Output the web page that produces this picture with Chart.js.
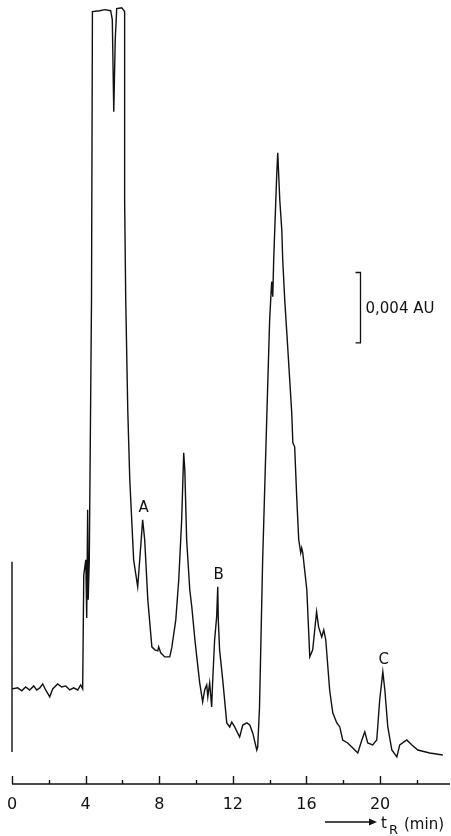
<!DOCTYPE html>
<html>
<head>
<meta charset="utf-8">
<script src="https://cdn.jsdelivr.net/npm/chart.js@4.4.0/dist/chart.umd.min.js"></script>
<style>
  html, body { margin: 0; padding: 0; background: #fff; }
  #wrap { width: 451px; height: 836px; }
</style>
</head>
<body>
<div id="wrap"><canvas id="chromatogram"></canvas></div>
<script>
// Retention time (min) of each trace point
const retentionTimes = [
  0.0, 0.0, 0.0, 0.0, 0.31, 0.53, 0.74, 0.96, 1.18, 1.34,
  1.51, 1.67, 1.83, 2.05, 2.21, 2.48, 2.70, 2.92, 3.14, 3.35,
  3.57, 3.73, 3.84,
  3.90, 4.01, 4.06, 4.11, 4.14, 4.20, 4.32, 4.37, 4.77, 5.04,
  5.36, 5.45, 5.53, 5.61, 5.69, 5.96, 6.12, 6.12, 6.18, 6.29,
  6.40, 6.61, 6.83,
  6.94, 7.10, 7.21, 7.38, 7.60, 7.76, 7.92, 7.97, 8.08, 8.30,
  8.57, 8.68, 8.90, 9.06, 9.22, 9.33, 9.39, 9.49, 9.66, 9.77,
  9.94, 10.04, 10.20, 10.36, 10.47, 10.58, 10.64, 10.74, 10.85, 10.90,
  11.01, 11.12, 11.18, 11.21, 11.28, 11.45, 11.67, 11.83, 11.94, 12.10,
  12.37, 12.54, 12.76, 12.92, 13.08, 13.30, 13.35, 13.45, 13.62, 13.84,
  14.00, 14.11, 14.17, 14.22, 14.38, 14.44, 14.55, 14.66, 14.71, 14.82,
  14.98, 15.20, 15.26, 15.36, 15.47, 15.58, 15.69, 15.74, 15.80, 16.02,
  16.18, 16.34, 16.55, 16.66, 16.83, 16.94, 17.05, 17.26, 17.43, 17.65,
  17.81, 17.97, 18.24, 18.52, 18.79, 19.01, 19.17, 19.33, 19.60, 19.82,
  19.98, 20.15, 20.26, 20.42, 20.64, 20.91, 21.07, 21.45, 21.73, 22.05,
  22.70, 23.41
];

// Detector signal (mAU above baseline), same order as retentionTimes
const absorbance = [
  7.22, -3.58, 0.0, 0.0, 0.06, -0.11, 0.11, -0.06, 0.17, -0.06,
  0.06, 0.28, -0.06, -0.45, 0.0, 0.28, 0.11, 0.17, -0.06, 0.06,
  -0.06, 0.23, 0.0,
  6.48, 7.33, 4.03, 10.17, 5.06, 7.33, 22.10, 38.47, 38.52, 38.58,
  38.52, 38.01, 32.78, 36.88, 38.64, 38.69, 38.47, 27.78, 22.10, 15.85,
  11.88, 7.33, 5.80,
  7.33, 9.60, 8.47, 5.06, 2.39, 2.22, 2.16, 2.39, 2.05, 1.82,
  1.82, 2.33, 3.92, 6.19, 9.60, 13.41, 12.44, 8.47, 5.63, 4.66,
  2.78, 1.82, 0.34, -0.74, -0.06, 0.23, -0.45, 0.34, -1.02, 0.34,
  2.78, 4.09, 5.80, 3.92, 2.22, 0.51, -1.93, -2.16, -1.88, -2.16,
  -2.73, -2.05, -1.93, -2.05, -2.50, -3.47, -3.30, -1.02, 7.33, 15.28,
  20.97, 23.13, 22.27, 24.38, 29.09, 30.45, 27.78, 26.08, 24.38, 22.10,
  19.43, 15.68, 13.98, 13.75, 10.91, 8.47, 7.73, 8.01, 7.73, 5.63,
  1.82, 2.22, 4.38, 3.52, 2.95, 3.35, 2.78, -0.06, -1.36, -1.93,
  -2.16, -2.90, -3.07, -3.35, -3.64, -2.90, -2.44, -3.07, -3.18, -2.90,
  -0.63, 0.97, -0.06, -2.16, -3.47, -3.86, -3.18, -2.90, -3.18, -3.47,
  -3.64, -3.75
];

const labelledTicks = [0, 4, 8, 12, 16, 20];

// peaks marked on the trace
const peakNames = ["A", "B", "C"];
const peakTimes = [7.10, 11.18, 20.15];
const peakHeights = [9.60, 5.80, 0.97];

// scale bar: 4 mAU = 0,004 AU
const scaleBarText = "0,004 AU";
const scaleBarSize = 4;
const scaleBarTime = 18.9;
const scaleBarTop = 23.65;

const FONT = "'DejaVu Sans', sans-serif";
const INK = "#111";

const points = retentionTimes.map((t, i) => ({ x: t, y: absorbance[i] }));

const decorations = {
  id: "decorations",
  afterDraw(chart) {
    const ctx = chart.ctx;
    const xs = chart.scales.x;
    const ys = chart.scales.y;
    const area = chart.chartArea;
    const base = area.bottom;

    ctx.save();
    ctx.strokeStyle = INK;
    ctx.fillStyle = INK;
    ctx.lineWidth = 1.4;

    // time axis with upward ticks
    ctx.beginPath();
    ctx.moveTo(xs.getPixelForValue(0), base);
    ctx.lineTo(area.right, base);
    xs.ticks.forEach((tk) => {
      const px = Math.round(xs.getPixelForValue(tk.value)) + 0.5;
      const len = labelledTicks.includes(tk.value) ? 8 : 4;
      ctx.moveTo(px, base);
      ctx.lineTo(px, base - len);
    });
    ctx.stroke();

    // peak letters
    ctx.font = "15px " + FONT;
    ctx.textAlign = "center";
    ctx.textBaseline = "middle";
    peakNames.forEach((name, i) => {
      const px = xs.getPixelForValue(peakTimes[i]);
      const py = ys.getPixelForValue(peakHeights[i]);
      ctx.fillText(name, px + 1, py - 12);
    });

    // absorbance scale bar
    const bx = Math.round(xs.getPixelForValue(scaleBarTime)) + 0.5;
    const by1 = ys.getPixelForValue(scaleBarTop);
    const by2 = ys.getPixelForValue(scaleBarTop - scaleBarSize);
    ctx.lineWidth = 1.3;
    ctx.beginPath();
    ctx.moveTo(bx - 5, by1);
    ctx.lineTo(bx, by1);
    ctx.lineTo(bx, by2);
    ctx.lineTo(bx - 5, by2);
    ctx.stroke();
    ctx.textAlign = "left";
    ctx.fillText(scaleBarText, bx + 5, (by1 + by2) / 2 + 1);

    // axis title: arrow and t_R (min)
    const ay = 822;
    const ax2 = area.right - 73;
    ctx.beginPath();
    ctx.moveTo(area.right - 125, ay);
    ctx.lineTo(ax2 - 6, ay);
    ctx.stroke();
    ctx.beginPath();
    ctx.moveTo(ax2, ay);
    ctx.lineTo(ax2 - 8, ay - 3.5);
    ctx.lineTo(ax2 - 8, ay + 3.5);
    ctx.closePath();
    ctx.fill();
    ctx.textBaseline = "alphabetic";
    ctx.font = "15px " + FONT;
    ctx.fillText("t", ax2 + 4, 828);
    ctx.font = "13px " + FONT;
    ctx.fillText("R", ax2 + 12, 834);
    ctx.font = "15px " + FONT;
    ctx.fillText("(min)", ax2 + 27, 829);

    ctx.restore();
  },
};

new Chart(document.getElementById("chromatogram").getContext("2d"), {
  type: "line",
  data: {
    datasets: [
      {
        data: points,
        borderColor: INK,
        borderWidth: 1.4,
        pointRadius: 0,
        tension: 0,
        fill: false,
        clip: false,
      },
    ],
  },
  options: {
    responsive: true,
    maintainAspectRatio: false,
    animation: false,
    layout: { padding: { left: 12, right: 1, top: 4, bottom: 0 } },
    plugins: {
      legend: { display: false },
      tooltip: { enabled: false },
    },
    scales: {
      x: {
        type: "linear",
        min: 0,
        max: 23.8,
        border: { display: false },
        grid: { display: false },
        afterFit: (scale) => {
          scale.height = 52;
        },
        ticks: {
          stepSize: 2,
          includeBounds: false,
          autoSkip: false,
          maxRotation: 0,
          padding: 3,
          color: INK,
          font: { family: FONT, size: 16 },
          callback: (v) => (labelledTicks.includes(v) ? String(v) : ""),
        },
      },
      y: {
        display: false,
        min: -5.4,
        max: 38.9,
      },
    },
  },
  plugins: [decorations],
});
</script>
</body>
</html>
